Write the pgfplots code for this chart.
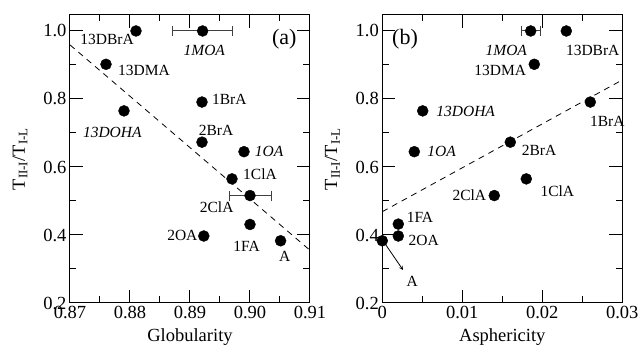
\documentclass[border=0pt]{standalone}
\usepackage{fontspec}
\setmainfont{Liberation Serif}
\usepackage{pgfplots}
\pgfplotsset{compat=1.18}
\pgfplotsset{
  myax/.style={
    scale only axis, width=240pt, height=288pt,
    ymin=0.2, ymax=1.047,
    ytick={0.2,0.4,0.6,0.8,1.0},
    yticklabels={0.2,0.4,0.6,0.8,1.0},
    scaled x ticks=false, scaled y ticks=false,
    minor y tick num=1, minor x tick num=1,
    tick align=inside,
    major tick length=13pt, minor tick length=6.5pt,
    axis line style={line width=1pt},
    every tick/.style={line width=1pt, black},
    tick label style={font=\fontsize{18.5}{20}\selectfont},
    label style={font=\fontsize{18.5}{20}\selectfont},
    /pgf/number format/assume math mode=true,
    clip=false,
    xlabel style={at={(axis description cs:0.5,-0.12)}, anchor=center},
    ylabel style={at={(axis description cs:-0.208,0.5)}, anchor=center},
    ylabel={T\textsubscript{II-I}/T\textsubscript{I-L}},
  },
  dot/.style={only marks, mark=*, mark size=5.5pt, black},
  eb/.style={only marks, mark=*, mark size=5.5pt, black,
    error bars/.cd, x dir=both, x explicit,
    error bar style={darkgray, line width=1pt},
    error mark options={rotate=90, mark size=5pt, darkgray, line width=1pt}},
  fit/.style={black, line width=0.8pt, dash pattern=on 6pt off 5pt},
}
\newcommand{\lbl}{\fontsize{15.5}{17}\selectfont}
\begin{document}
\begin{tikzpicture}
\useasboundingbox (0pt,0pt) rectangle (642pt,347pt);
% ---------------- panel (a)
\begin{axis}[myax, at={(70pt,44pt)}, anchor=south west,
  xmin=0.87, xmax=0.91,
  xtick={0.87,0.88,0.89,0.90,0.91},
  xticklabels={0.87,0.88,0.89,0.90,0.91},
  xlabel={Globularity}]
\addplot[fit] coordinates {(0.87,0.959) (0.91,0.355)};
\addplot[eb] coordinates {(0.8921,1.0) +- (0.005,0) (0.900,0.516) +- (0.0035,0)};
\addplot[dot] coordinates {
 (0.881,1.0) (0.876,0.902) (0.879,0.765) (0.892,0.791) (0.892,0.673)
 (0.899,0.645) (0.897,0.565) (0.900,0.431) (0.8923,0.397) (0.9051,0.383)};
\node[font=\lbl] at (axis cs:0.87617,0.9756) {13DBrA};
\node[font=\lbl\itshape] at (axis cs:0.89238,0.944) {1MOA};
\node[font=\fontsize{22}{24}\selectfont] at (axis cs:0.90572,0.9756) {(a)};
\node[font=\lbl] at (axis cs:0.88233,0.8832) {13DMA};
\node[font=\lbl] at (axis cs:0.89655,0.800) {1BrA};
\node[font=\lbl\itshape] at (axis cs:0.87705,0.702) {13DOHA};
\node[font=\lbl] at (axis cs:0.89433,0.7068) {2BrA};
\node[font=\lbl\itshape] at (axis cs:0.90317,0.645) {1OA};
\node[font=\lbl] at (axis cs:0.90167,0.5794) {1ClA};
\node[font=\lbl] at (axis cs:0.89445,0.4803) {2ClA};
\node[font=\lbl] at (axis cs:0.88872,0.398) {2OA};
\node[font=\lbl] at (axis cs:0.89945,0.3676) {1FA};
\node[font=\lbl] at (axis cs:0.90578,0.3362) {A};
\end{axis}
% ---------------- panel (b)
\begin{axis}[myax, at={(382.3pt,44pt)}, anchor=south west,
  xmin=0, xmax=0.03,
  xtick={0,0.01,0.02,0.03},
  xticklabels={0,0.01,0.02,0.03},
  xlabel={Asphericity}]
\addplot[fit] coordinates {(0,0.4685) (0.03,0.856)};
\addplot[eb] coordinates {(0.01855,1.0) +- (0.0012,0)};
\addplot[dot] coordinates {
 (0.023,1.0) (0.019,0.902) (0.026,0.791) (0.00505,0.765) (0.004,0.645)
 (0.016,0.673) (0.018,0.565) (0.014,0.516) (0.002,0.432) (0.002,0.397) (0,0.383)};
\addplot[black, line width=0.8pt, -stealth] coordinates {(0.00045,0.3706) (0.00259,0.2971)};
\node[font=\fontsize{22}{24}\selectfont] at (axis cs:0.00284,0.9756) {(b)};
\node[font=\lbl\itshape] at (axis cs:0.0155,0.944) {1MOA};
\node[font=\lbl] at (axis cs:0.0263,0.944) {13DBrA};
\node[font=\lbl] at (axis cs:0.01475,0.8832) {13DMA};
\node[font=\lbl\itshape] at (axis cs:0.01042,0.7647) {13DOHA};
\node[font=\lbl] at (axis cs:0.02813,0.7332) {1BrA};
\node[font=\lbl\itshape] at (axis cs:0.00742,0.645) {1OA};
\node[font=\lbl] at (axis cs:0.01959,0.650) {2BrA};
\node[font=\lbl] at (axis cs:0.02188,0.5285) {1ClA};
\node[font=\lbl] at (axis cs:0.01088,0.5156) {2ClA};
\node[font=\lbl] at (axis cs:0.00471,0.451) {1FA};
\node[font=\lbl] at (axis cs:0.00517,0.385) {2OA};
\node[font=\lbl] at (axis cs:0.00375,0.2647) {A};
\end{axis}
\end{tikzpicture}
\end{document}
